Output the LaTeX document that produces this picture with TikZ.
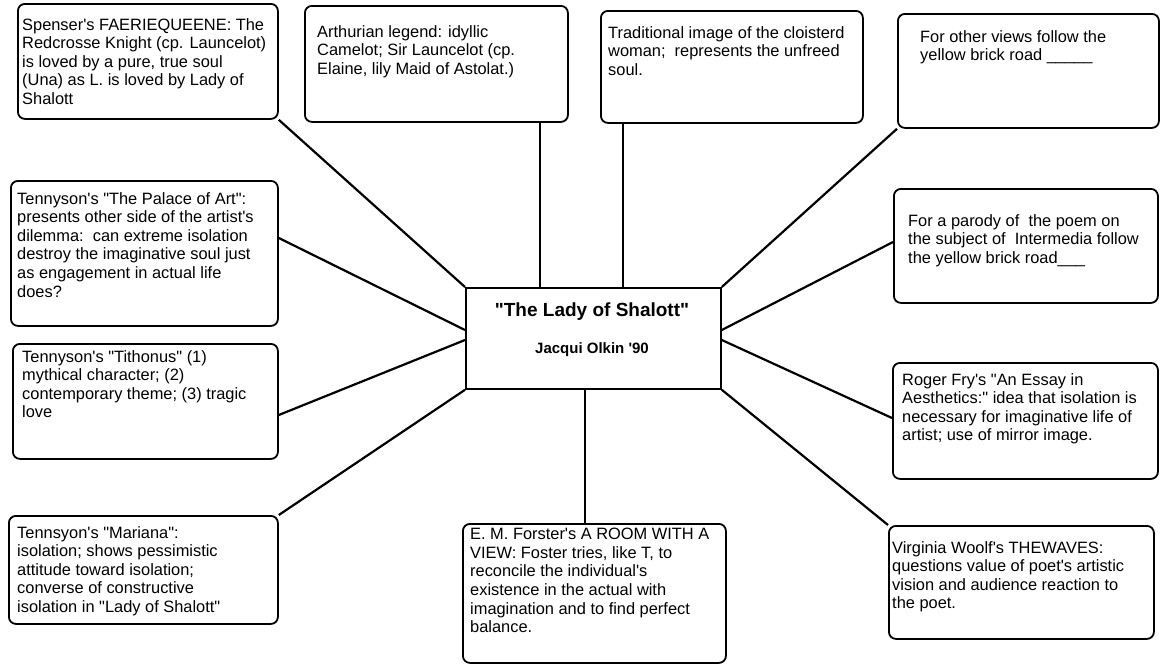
\documentclass[tikz,border=0pt]{standalone}
\usepackage{fontspec}
\setmainfont{Liberation Sans}[Ligatures=TeXOff]
\begin{document}
\begin{tikzpicture}[x=1pt,y=-1pt,
 box/.style={draw, line width=1.8pt, rounded corners=7pt, inner sep=0pt, anchor=north west},
 cbox/.style={draw, line width=1.8pt, inner sep=0pt, anchor=north west},
 txt/.style={anchor=north west, align=left, inner sep=0pt, font=\fontsize{16.4}{18.6}\selectfont},
 link/.style={line width=2.2pt}]
\useasboundingbox (0,0) rectangle (1161,665);
\fill[white] (0,0) rectangle (1161,665);

% boxes
\node[box, minimum width=260pt, minimum height=115pt] (S) at (17,3) {};
\node[box, minimum width=263pt, minimum height=116pt] (A) at (304,5) {};
\node[box, minimum width=262pt, minimum height=112pt] (T) at (600,10) {};
\node[box, minimum width=261pt, minimum height=114pt] (O) at (897,13) {};
\node[box, minimum width=267pt, minimum height=145pt] (P) at (10,180) {};
\node[box, minimum width=264pt, minimum height=114pt] (Q) at (893,188) {};
\node[cbox, minimum width=255pt, minimum height=101pt] (C) at (465,287) {};
\node[box, minimum width=265pt, minimum height=115pt] (Ti) at (12,343) {};
\node[box, minimum width=265pt, minimum height=116pt] (F) at (892,362) {};
\node[box, minimum width=269pt, minimum height=108pt] (M) at (8,515) {};
\node[box, minimum width=263pt, minimum height=139pt] (Fo) at (462,523) {};
\node[box, minimum width=265pt, minimum height=113pt] (W) at (888,525) {};

% texts
\node[txt] (tS) at (22,18) {Spenser's FAERIEQUEENE: The\\Redcrosse Knight (cp. Launcelot)\\is loved by a pure, true soul\\(Una) as L. is loved by Lady of\\Shalott};
\node[txt] (tA) at (317,25) {Arthurian legend: idyllic\\Camelot; Sir Launcelot (cp.\\Elaine, lily Maid of Astolat.)};
\node[txt] (tT) at (608,26) {Traditional image of the cloisterd\\woman;\ \ represents the unfreed\\soul.};
\node[txt] (tO) at (920,30) {For other views follow the\\yellow brick road \_\_\_\_\_};
\node[txt] (tP) at (17,192) {Tennyson's "The Palace of Art":\\presents other side of the artist's\\dilemma:\ \ can extreme isolation\\destroy the imaginative soul just\\as engagement in actual life\\does?};
\node[txt] (tQ) at (908,214) {For a parody of\ \ the poem on\\the subject of\ \ Intermedia follow\\the yellow brick road\_\_\_};
\node[font=\bfseries\fontsize{19}{22}\selectfont] (title) at (592,312) {"The Lady of Shalott"};
\node[font=\bfseries\fontsize{15}{18}\selectfont] (auth) at (592,350) {Jacqui Olkin '90};
\node[txt] (tTi) at (22,350) {Tennyson's "Tithonus" (1)\\mythical character; (2)\\contemporary theme; (3) tragic\\love};
\node[txt] (tF) at (902,373) {Roger Fry's "An Essay in\\Aesthetics:" idea that isolation is\\necessary for imaginative life of\\artist; use of mirror image.};
\node[txt] (tM) at (17,526) {Tennsyon's "Mariana":\\isolation; shows pessimistic\\attitude toward isolation;\\converse of constructive\\isolation in "Lady of Shalott"};
\node[txt] (tFo) at (470,528) {E. M. Forster's A ROOM WITH A\\VIEW: Foster tries, like T, to\\reconcile the individual's\\existence in the actual with\\imagination and to find perfect\\balance.};
\node[txt] (tW) at (892,541) {Virginia Woolf's THEWAVES:\\questions value of poet's artistic\\vision and audience reaction to\\the poet.};

% connector levels
\coordinate (xa) at (540,0);
\coordinate (xt) at (623,0);
\coordinate (xf) at (585,0);
\coordinate (yP) at (0,238);
\coordinate (yQ) at (0,242);
\coordinate (yCu) at (0,330);
\coordinate (yCl) at (0,340);
\coordinate (yTi) at (0,415);
\coordinate (yF) at (0,418);

% connectors
\draw[link] (S.south east) -- (C.north west);
\draw[link] (xa |- A.south) -- (xa |- C.north);
\draw[link] (xt |- T.south) -- (xt |- C.north);
\draw[link] (O.south west) -- (C.north east);
\draw[link] (P.east |- yP) -- (C.west |- yCu);
\draw[link] (Q.west |- yQ) -- (C.east |- yCu);
\draw[link] (Ti.east |- yTi) -- (C.west |- yCl);
\draw[link] (F.west |- yF) -- (C.east |- yCl);
\draw[link] (M.north east) -- (C.south west);
\draw[link] (xf |- C.south) -- (xf |- Fo.north);
\draw[link] (W.north west) -- (C.south east);
\end{tikzpicture}
\end{document}
